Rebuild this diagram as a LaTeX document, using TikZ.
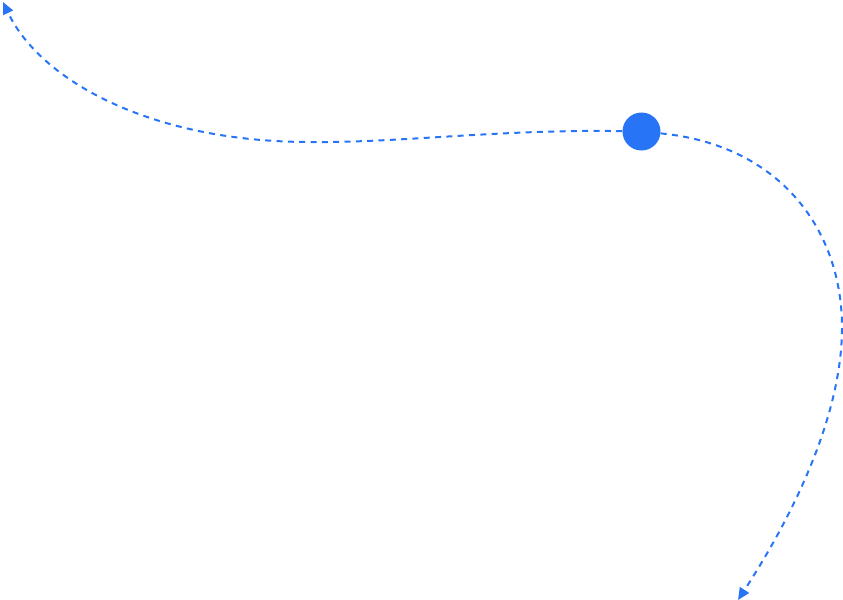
\documentclass[tikz,border=0pt]{standalone}
\usepackage{tikz}
\usetikzlibrary{arrows.meta}

\definecolor{dotblue}{RGB}{39,117,246}

\begin{document}
\begin{tikzpicture}[x=0.75pt,y=-0.75pt,
  track/.style={dotblue, line width=1.5pt, dash pattern=on 4.5pt off 4pt, -{Triangle[length=9pt,width=8pt]}}]
\useasboundingbox (0,0) rectangle (843,600);

\node[circle, fill=dotblue, inner sep=0pt, minimum size=28.5pt] (dot) at (641.5,131.5) {};

\coordinate (low) at (310,142);
\coordinate (tl) at (3,2);
\coordinate (side) at (842,330);
\coordinate (br) at (738,600);

\draw[track] (dot) .. controls (500,129) and (400,143) .. (low)
  .. controls (150,142) and (40,80) .. (tl);
\draw[track] (dot) .. controls (780,145) and (843,230) .. (side)
  .. controls (841,420) and (790,520) .. (br);
\end{tikzpicture}
\end{document}
